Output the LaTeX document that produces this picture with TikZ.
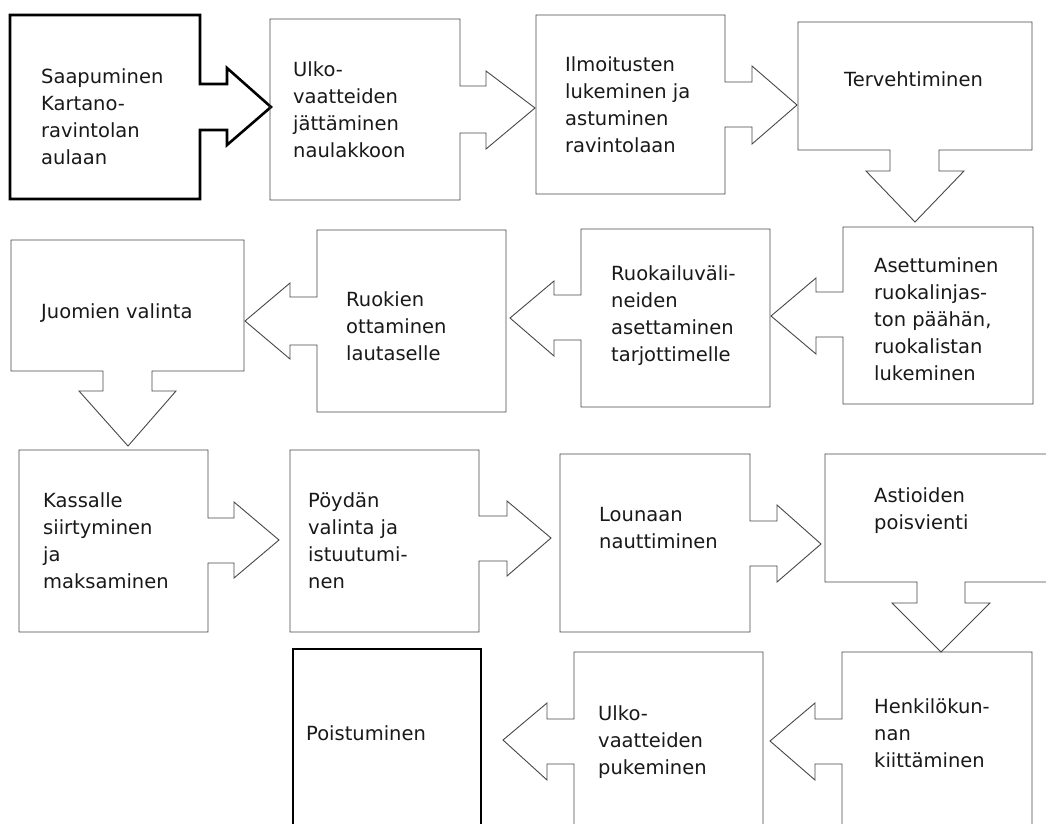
\documentclass[tikz,border=0pt]{standalone}
\usepackage{fontspec}
\setmainfont{DejaVu Sans}
\begin{document}
\begin{tikzpicture}[x=1pt,y=-1pt,
  shp/.style={draw=black!72, line width=0.9pt, line join=miter},
  thk/.style={draw=black, line width=2.6pt, line join=miter},
  lbl/.style={inner sep=0pt, align=left, anchor=north west, text=black!90,
    font=\fontsize{19.5}{27}\selectfont}]
\useasboundingbox (0,0) rectangle (1046,823);
\fill[white] (0,0) rectangle (1046,823);
\clip (0,0) rectangle (1046,823);
% ---------- row 1 ----------
\draw[thk] (10,15) -- (200,15) -- (200,84) -- (227,84) -- (227,68) -- (271,107)
  -- (227,145) -- (227,130) -- (200,130) -- (200,199) -- (10,199) -- cycle;
\draw[shp] (270,19) -- (460,19) -- (460,86) -- (486,86) -- (486,71) -- (535,108)
  -- (486,149) -- (486,133) -- (460,133) -- (460,200) -- (270,200) -- cycle;
\draw[shp] (536,15) -- (725,15) -- (725,82) -- (752,82) -- (752,66) -- (797,105)
  -- (752,144) -- (752,127) -- (725,127) -- (725,194) -- (536,194) -- cycle;
\draw[shp] (798,22) -- (1032,22) -- (1032,150) -- (939,150) -- (939,171) -- (964,171)
  -- (915,222) -- (866,171) -- (890,171) -- (890,150) -- (798,150) -- cycle;
% ---------- row 2 ----------
\draw[shp] (11,240) -- (244,240) -- (244,371) -- (152,371) -- (152,391) -- (176,391)
  -- (128,446) -- (79,391) -- (103,391) -- (103,371) -- (11,371) -- cycle;
\draw[shp] (506,230) -- (317,230) -- (317,297) -- (290,297) -- (290,283) -- (245,321)
  -- (290,359) -- (290,345) -- (317,345) -- (317,412) -- (506,412) -- cycle;
\draw[shp] (770,229) -- (581,229) -- (581,295) -- (554,295) -- (554,281) -- (510,318)
  -- (554,356) -- (554,340) -- (581,340) -- (581,407) -- (770,407) -- cycle;
\draw[shp] (1033,227) -- (843,227) -- (843,292) -- (816,292) -- (816,278) -- (771,316)
  -- (816,354) -- (816,337) -- (843,337) -- (843,404) -- (1033,404) -- cycle;
% ---------- row 3 ----------
\draw[shp] (19,450) -- (208,450) -- (208,518) -- (234,518) -- (234,502) -- (279,540)
  -- (234,578) -- (234,563) -- (208,563) -- (208,632) -- (19,632) -- cycle;
\draw[shp] (290,450) -- (479,450) -- (479,516) -- (507,516) -- (507,501) -- (551,538)
  -- (507,576) -- (507,561) -- (479,561) -- (479,632) -- (290,632) -- cycle;
\draw[shp] (560,454) -- (750,454) -- (750,521) -- (777,521) -- (777,505) -- (821,544)
  -- (777,582) -- (777,566) -- (750,566) -- (750,632) -- (560,632) -- cycle;
\draw[shp] (825,454) -- (1060,454) -- (1060,582) -- (965,582) -- (965,603) -- (990,603)
  -- (941,652) -- (892,603) -- (917,603) -- (917,582) -- (825,582) -- cycle;
% ---------- row 4 ----------
\draw[shp] (1032,652) -- (842,652) -- (842,719) -- (815,719) -- (815,703) -- (770,741)
  -- (815,780) -- (815,764) -- (842,764) -- (842,840) -- (1032,840) -- cycle;
\draw[shp] (763,652) -- (574,652) -- (574,719) -- (547,719) -- (547,703) -- (503,740)
  -- (547,780) -- (547,764) -- (574,764) -- (574,840) -- (763,840) -- cycle;
\draw[thk] (293,649) rectangle (481,840);
% ---------- texts ----------
\node[lbl] (t1) at (41,64) {\strut Saapuminen\\Kartano-\\ravintolan\\aulaan};
\node[lbl] (t2) at (293,57) {\strut Ulko-\\vaatteiden\\jättäminen\\naulakkoon};
\node[lbl] (t3) at (565,52) {\strut Ilmoitusten\\lukeminen ja\\astuminen\\ravintolaan};
\node[lbl] (t4) at (844,67) {\strut Tervehtiminen};
\node[lbl] (t5) at (41,299) {\strut Juomien valinta};
\node[lbl] (t6) at (346,287) {\strut Ruokien\\ottaminen\\lautaselle};
\node[lbl] (t7) at (611,261) {\strut Ruokailuväli-\\neiden\\asettaminen\\tarjottimelle};
\node[lbl] (t8) at (874,253) {\strut Asettuminen\\ruokalinjas-\\ton päähän,\\ruokalistan\\lukeminen};
\node[lbl] (t9) at (43,488) {\strut Kassalle\\siirtyminen\\ja\\maksaminen};
\node[lbl] (t10) at (308,488) {\strut Pöydän\\valinta ja\\istuutumi-\\nen};
\node[lbl] (t11) at (599,502) {\strut Lounaan\\nauttiminen};
\node[lbl] (t12) at (874,483) {\strut Astioiden\\poisvienti};
\node[lbl] (t13) at (874,694) {\strut Henkilökun-\\nan\\kiittäminen};
\node[lbl] (t14) at (598,701) {\strut Ulko-\\vaatteiden\\pukeminen};
\node[lbl] (t15) at (306,721) {\strut Poistuminen};
\end{tikzpicture}
\end{document}
